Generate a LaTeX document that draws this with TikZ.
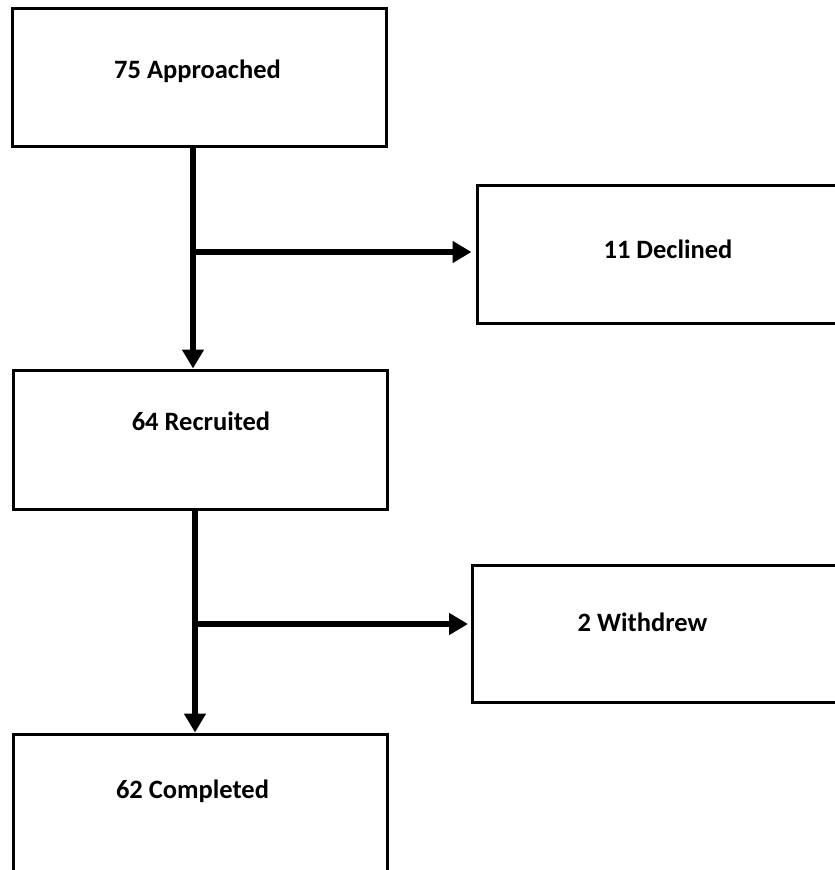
\documentclass[tikz,border=0pt]{standalone}
\usepackage{fontspec}
\setmainfont{Carlito}
\usepackage{tikz}
\usetikzlibrary{arrows.meta}
\tikzset{
    stage/.style={draw, line width=3pt, minimum width=374pt, minimum height=138pt, inner sep=0pt},
    stagetext/.style={anchor=base, font=\bfseries\fontsize{26.5}{30}\selectfont},
    flow/.style={line width=5.5pt, -{Triangle[length=19pt,width=21pt]}},
}
\begin{document}
\begin{tikzpicture}[x=1pt,y=-1pt]
                \useasboundingbox (0,0) rectangle (835,870);
                \clip (0,0) rectangle (835,870);
                \node[stage] (appr) at (199,77.5) {};
                \node[stage, minimum width=384pt] (decl) at (669,254) {};
                \node[stage, minimum height=139pt] (recr) at (200,439.5) {};
                \node[stage, minimum width=388pt, minimum height=137pt] (withd) at (666,633.5) {};
                \node[stage, minimum height=139pt] (comp) at (200,803.5) {};
                \node[stagetext] (apprtext) at (197.5,78.5) {75 Approached};
                \node[stagetext] (decltext) at (668,258.5) {11 Declined};
                \node[stagetext] (recrtext) at (201,430.5) {64 Recruited};
                \node[stagetext] (withdtext) at (642.5,631.5) {2 Withdrew};
                \node[stagetext] (comptext) at (192.5,798.5) {62 Completed};
                \coordinate (s1) at (193,252);
                \coordinate (s2) at (195,624);
                \draw[flow] (s1 |- appr.south) -- (s1 |- recr.north);
                \draw[flow, shorten >=4pt] (s1) -- (s1 -| decl.west);
                \draw[flow] (s2 |- recr.south) -- (s2 |- comp.north);
                \draw[flow, shorten >=2.5pt] (s2) -- (s2 -| withd.west);
\end{tikzpicture}
\end{document}
